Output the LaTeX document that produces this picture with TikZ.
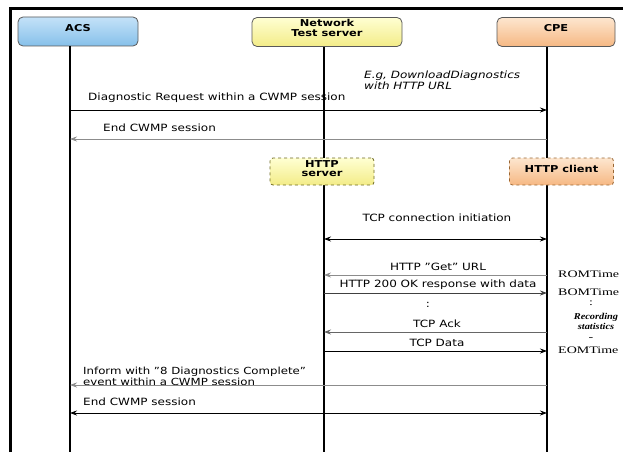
\documentclass[tikz,border=0pt]{standalone}
\usepackage{fontspec}
\setmainfont{DejaVu Sans}[FakeStretch=1.2]
\newfontfamily\notefont{Liberation Serif}[FakeStretch=1.4]
\newfontfamily\recfont{Liberation Serif}[FakeStretch=1.15]
\usetikzlibrary{positioning,arrows.meta}

\definecolor{acsTopC}{HTML}{C4E2F8}
\definecolor{acsBotC}{HTML}{86C0EA}
\definecolor{ntsTopC}{HTML}{FFFFD2}
\definecolor{ntsBotC}{HTML}{F3EC88}
\definecolor{cpeTopC}{HTML}{FDE6CF}
\definecolor{cpeBotC}{HTML}{F6B883}

\begin{document}
\begin{tikzpicture}[x=1pt,y=-1pt]
  \tikzset{
    actor/.style={draw=black!65, thick, rounded corners=5pt, minimum height=29pt,
      inner sep=0pt, text depth=8pt, align=center, font=\fontsize{9.5}{9.5}\selectfont\bfseries},
    role/.style={draw, dashed, thick, rounded corners=3pt, minimum width=104pt, minimum height=27pt,
      inner sep=0pt, text depth=6pt, align=center, font=\fontsize{9.5}{9.5}\selectfont\bfseries},
    lifeline/.style={line width=2.5pt},
    msg/.style={line width=0.8pt, -{Stealth[length=7pt,width=5pt]}},
    txt/.style={inner sep=0pt, font=\fontsize{10}{11}\selectfont},
    note/.style={inner sep=0pt, font=\fontsize{10}{10}\notefont}
  }
  \useasboundingbox (0,0) rectangle (623,452);

  % frame
  \draw[line width=3pt] (10.5,452) -- (10.5,8.5) -- (623,8.5);

  % the three parties
  \node[actor, minimum width=120pt, top color=acsTopC, bottom color=acsBotC] (acs) at (78,31.5) {ACS};
  \node[actor, minimum width=150pt, top color=ntsTopC, bottom color=ntsBotC] (nts) at (327,32) {Network\\Test server};
  \node[actor, minimum width=118pt, top color=cpeTopC, bottom color=cpeBotC] (cpe) at (556,32) {CPE};

  % lifelines
  \coordinate (acsTop) at (70,46);
  \coordinate (ntsTop) at (324,47);
  \coordinate (cpeTop) at (547,47);
  \coordinate (bottom) at (0,452);
  \draw[lifeline] (acsTop) -- (acsTop |- bottom);
  \draw[lifeline] (ntsTop) -- (ntsTop |- bottom);
  \draw[lifeline] (cpeTop) -- (cpeTop |- bottom);

  % HTTP roles
  \node[role, draw=olive!70!black, top color=ntsTopC, bottom color=ntsBotC] (httpSrv) at (322,171.5) {HTTP\\server};
  \node[role, draw=brown!80!black, top color=cpeTopC, bottom color=cpeBotC] (httpCli) at (561.5,171.5) {HTTP client};

  % message rows
  \coordinate (r1) at (0,110);
  \coordinate (r2) at (0,139);
  \coordinate (r3) at (0,239);
  \coordinate (r4) at (0,275);
  \coordinate (r5) at (0,293);
  \coordinate (r6) at (0,332);
  \coordinate (r7) at (0,351);
  \coordinate (r8) at (0,385);
  \coordinate (r9) at (0,413);

  % CWMP part
  \node[txt, anchor=west, align=left, font=\fontsize{10}{9}\selectfont\itshape] (egNote) at (364,80)
    {E.g, DownloadDiagnostics\\with HTTP URL};
  \draw[msg] (acsTop |- r1) -- (cpeTop |- r1);
  \node[txt, anchor=west] (diagReq) at (88,98) {Diagnostic Request within a CWMP session};
  \draw[msg, black!45] (cpeTop |- r2) -- (acsTop |- r2);
  \node[txt, anchor=west] (endOne) at (103,128) {End CWMP session};

  % HTTP download
  \node[txt] (tcpInit) at (437,218) {TCP connection initiation};
  \draw[msg, {Stealth[length=7pt,width=5pt]}-{Stealth[length=7pt,width=5pt]}] (ntsTop |- r3) -- (cpeTop |- r3);
  \node[txt] (getUrl) at (438,267) {HTTP "Get" URL};
  \draw[msg, black!45] (cpeTop |- r4) -- (ntsTop |- r4);
  \node[txt] (okResp) at (438,285) {HTTP 200 OK response with data};
  \draw[msg, black!75] (ntsTop |- r5) -- (cpeTop |- r5);
  \node[txt] (dots) at (428,305) {:};
  \node[txt] (tcpAck) at (437,324) {TCP Ack};
  \draw[msg, black!60] (cpeTop |- r6) -- (ntsTop |- r6);
  \node[txt] (tcpData) at (437,343) {TCP Data};
  \draw[msg] (ntsTop |- r7) -- (cpeTop |- r7);

  % timestamps at the CPE
  \node[note, anchor=west] (romTime) at (558,274) {ROMTime};
  \node[note, anchor=west] (bomTime) at (558,292) {BOMTime};
  \node[note] (tDots) at (591,303) {:};
  \node[note, align=center, font=\fontsize{9}{9.5}\recfont\bfseries\itshape] (recStats) at (596,321.5)
    {Recording\\statistics};
  \node[note] (tDash) at (591,339) {-};
  \node[note, anchor=west] (eomTime) at (558,350.5) {EOMTime};

  % closing CWMP part
  \node[txt, anchor=west, align=left, font=\fontsize{9.8}{10.5}\selectfont] (inform) at (83,376.5)
    {Inform with "8 Diagnostics Complete"\\event within a CWMP session};
  \draw[msg, black!45] (cpeTop |- r8) -- (acsTop |- r8);
  \node[txt, anchor=west] (endTwo) at (83,402) {End CWMP session};
  \draw[msg, {Stealth[length=7pt,width=5pt]}-{Stealth[length=7pt,width=5pt]}] (acsTop |- r9) -- (cpeTop |- r9);

\end{tikzpicture}
\end{document}
